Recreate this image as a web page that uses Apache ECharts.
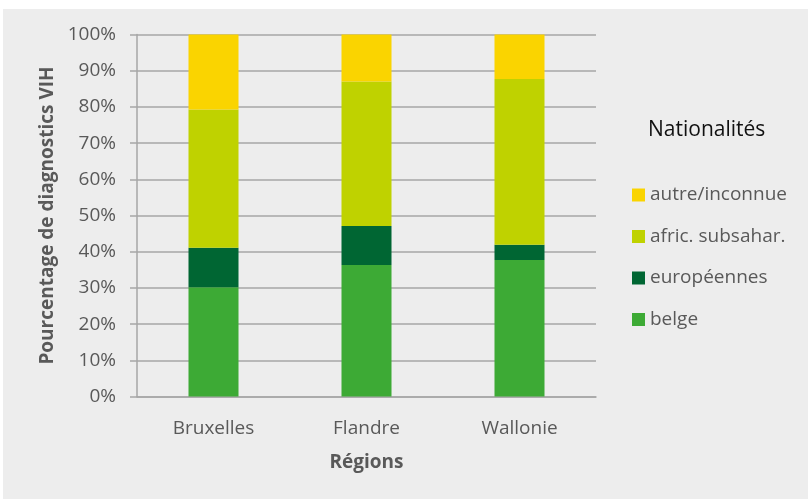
<!DOCTYPE html>
<html>
<head>
<meta charset="utf-8">
<script src="https://cdn.jsdelivr.net/npm/echarts@6/dist/echarts.min.js"></script>
<style>
html,body{margin:0;padding:0;background:#ffffff;}
#c{position:absolute;left:3px;top:9px;width:805px;height:490px;}
</style>
</head>
<body>
<div id="c"></div>
<script>
const categories = ['Bruxelles', 'Flandre', 'Wallonie'];
const belge = [30.2, 36.3, 37.7];
const europeennes = [10.9, 10.8, 4.2];
const africSubsahar = [38.2, 39.9, 45.8];
const autreInconnue = [20.7, 13.0, 12.3];
const yTicks = [0, 10, 20, 30, 40, 50, 60, 70, 80, 90, 100];

const FONT = '"Open Sans", sans-serif';
const chart = echarts.init(document.getElementById('c'));
function bar(name, data, color) {
  return { name, type: 'bar', stack: 'total', data, barWidth: 50,
    itemStyle: { color }, emphasis: { disabled: true } };
}
chart.setOption({
  backgroundColor: '#ededed',
  animation: false,
  textStyle: { fontFamily: FONT },
  title: {
    text: 'Nationalités', left: 640, top: 106,
    textStyle: { fontFamily: FONT, fontSize: 21, fontWeight: 'normal', color: '#111111' }
  },
  legend: {
    orient: 'vertical', left: 624, top: 170,
    icon: 'rect', itemWidth: 13, itemHeight: 13, itemGap: 19.5,
    data: ['autre/inconnue', 'afric. subsahar.', 'européennes', 'belge'],
    textStyle: { fontFamily: FONT, fontSize: 19, color: '#595959', lineHeight: 22, padding: [0, 0, 0, 0] }
  },
  grid: { left: 134, right: 212, top: 25.5, bottom: 102.5 },
  xAxis: {
    type: 'category', data: categories,
    name: 'Régions', nameLocation: 'middle', nameGap: 57,
    nameTextStyle: { fontFamily: FONT, fontSize: 19, fontWeight: 'bold', color: '#595959' },
    axisLine: { lineStyle: { color: '#a6a6a6', width: 1.5 } },
    axisTick: { show: false },
    axisLabel: { fontFamily: FONT, fontSize: 19, color: '#595959', margin: 23 }
  },
  yAxis: {
    type: 'value', min: 0, max: 100, interval: 10,
    name: 'Pourcentage de diagnostics VIH', nameLocation: 'middle', nameGap: 80,
    nameTextStyle: { fontFamily: FONT, fontSize: 19, fontWeight: 'bold', color: '#595959' },
    axisLine: { show: true, lineStyle: { color: '#a6a6a6', width: 1.5 } },
    axisTick: { show: true, length: 7, lineStyle: { color: '#a6a6a6', width: 1.5 } },
    splitLine: { lineStyle: { color: '#a6a6a6', width: 1.5 } },
    axisLabel: { fontFamily: FONT, fontSize: 19, color: '#595959', margin: 21,
      formatter: v => yTicks.includes(v) ? v + '%' : '' }
  },
  series: [
    bar('belge', belge, '#3daa35'),
    bar('européennes', europeennes, '#006633'),
    bar('afric. subsahar.', africSubsahar, '#bfd200'),
    bar('autre/inconnue', autreInconnue, '#fad400')
  ]
});
</script>
</body>
</html>
